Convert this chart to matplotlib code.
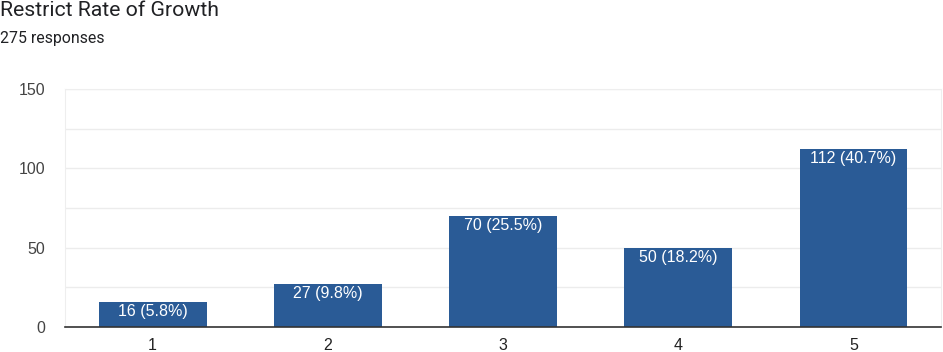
import matplotlib.pyplot as plt

categories = ["1", "2", "3", "4", "5"]
counts = [16, 27, 70, 50, 112]
labels = ["16 (5.8%)", "27 (9.8%)", "70 (25.5%)", "50 (18.2%)", "112 (40.7%)"]
title = "Restrict Rate of Growth"
subtitle = "275 responses"

fig = plt.figure(figsize=(9.43, 3.52), dpi=100)
ax = fig.add_axes([0.069, 0.071, 0.929, 0.676])

xs = list(range(1, len(categories) + 1))
bars = ax.bar(xs, counts, width=0.615, color="#2a5b96", zorder=3)
for b, lab in zip(bars, labels):
    ax.text(b.get_x() + b.get_width() / 2, b.get_height() - 1.2, lab,
            ha="center", va="top", color="white", fontsize=11.5,
            family="Liberation Sans", zorder=4)

ax.set_xlim(0.5, 5.5)
ax.set_ylim(0, 150)
ax.set_yticks([0, 50, 100, 150])
ax.set_yticks([25, 75, 125], minor=True)
ax.set_xticks(xs)
ax.set_xticklabels(categories)
ax.grid(axis="y", which="both", color="#ececec", linewidth=1, zorder=0)
ax.tick_params(length=0, which="both", labelsize=11.5, colors="#444444")
for lab in ax.get_xticklabels() + ax.get_yticklabels():
    lab.set_family("Liberation Sans")
ax.tick_params(axis="y", pad=14)
ax.tick_params(axis="x", pad=8, labelcolor="#222222")
for side in ("top", "right", "left"):
    ax.spines[side].set_color("#eeeeee")
ax.spines["bottom"].set_color("#333333")
ax.spines["bottom"].set_linewidth(1.2)
ax.spines["bottom"].set_zorder(5)

fig.text(0.0, 1 - 11 / 352, title, ha="left", va="center", fontsize=15.3,
         family="Roboto", color="#202124")
fig.text(0.0, 1 - 38 / 352, subtitle, ha="left", va="center", fontsize=11.4,
         family="Roboto", color="#202124")

fig.savefig("out.png", dpi=100)
